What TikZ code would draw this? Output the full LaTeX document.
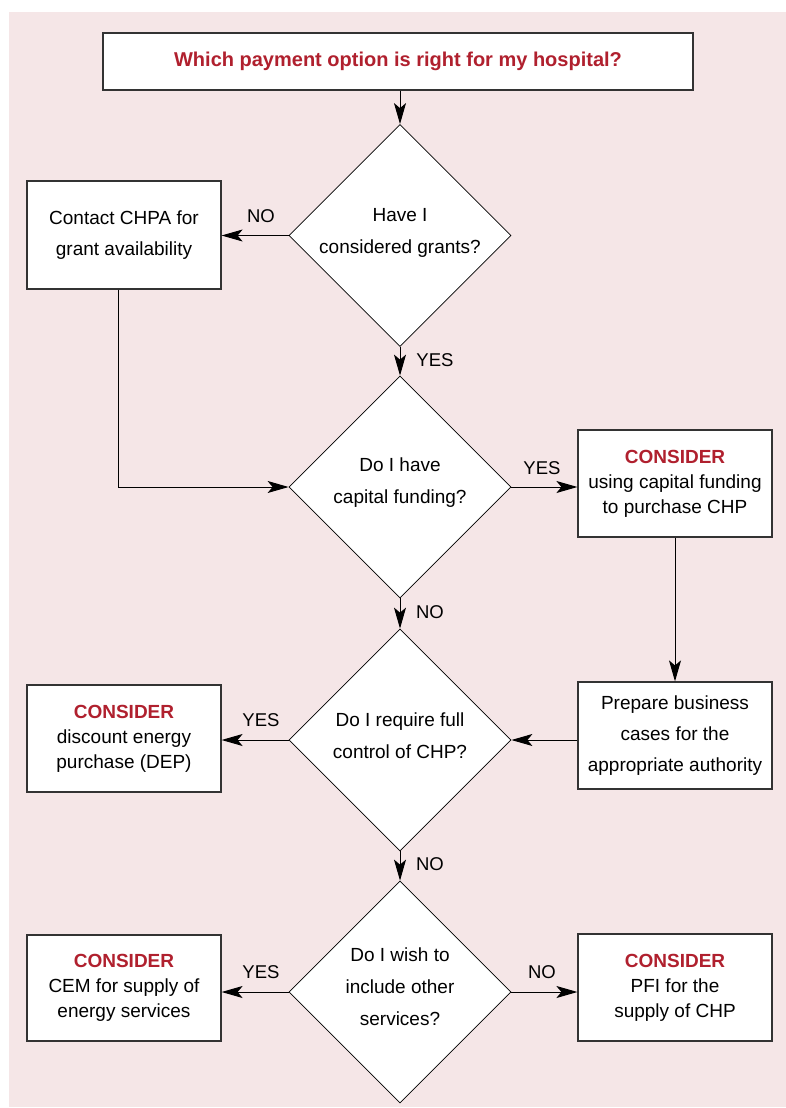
\documentclass[tikz,border=0pt]{standalone}
\usepackage{fontspec}
\setmainfont{Liberation Sans}
\usetikzlibrary{shapes.geometric,arrows.meta,calc}
\definecolor{bgpink}{RGB}{245,230,231}
\definecolor{hred}{RGB}{176,32,46}
\begin{document}
\begin{tikzpicture}[x=1pt,y=-1pt,
  box/.style={draw=black!80,line width=1.2pt,fill=white,minimum width=194pt,minimum height=107pt,inner sep=0pt,align=center,font=\fontsize{19}{31}\selectfont},
  cbox/.style={box,font=\fontsize{19}{25}\selectfont},
  dia/.style={draw,line width=0.8pt,fill=white,diamond,minimum width=222pt,minimum height=222pt,inner sep=0pt},
  dtext/.style={align=center,font=\fontsize{19}{32}\selectfont,inner sep=0pt},
  conn/.style={line width=1pt,-{Stealth[length=21pt,width=12pt,inset=5pt]}},
  plain/.style={line width=1pt},
  lbl/.style={font=\fontsize{18.5}{19}\selectfont,inner sep=0pt}
]
\useasboundingbox (0,0) rectangle (786,1108);
\fill[bgpink] (9,12) rectangle (786,1107);

\node[box,minimum width=590pt,minimum height=57pt,font=\fontsize{20}{24}\selectfont\bfseries,text=hred] (title) at (398,61.5) {Which payment option is right for my hospital?};

\node[dia] (d1) at (400,235.5) {};
\node[dtext] (t1) at (400,233) {Have I\\considered grants?};
\node[dia] (d2) at (400,487) {};
\node[dtext] (t2) at (400,483) {Do I have\\capital funding?};
\node[dia] (d3) at (400,740) {};
\node[dtext] (t3) at (400,736) {Do I require full\\control of CHP?};
\node[dia] (d4) at (400,992) {};
\node[dtext] (t4) at (400,987) {Do I wish to\\include other\\services?};

\node[box,minimum height=108pt] (contact) at (124,235) {Contact CHPA for\\grant availability};
\node[cbox] (cap) at (675,483.5) {\textcolor{hred}{\textbf{CONSIDER}}\\using capital funding\\to purchase CHP};
\node[box] (prep) at (675,735.5) {Prepare business\\cases for the\\appropriate authority};
\node[cbox] (dep) at (124,738.5) {\textcolor{hred}{\textbf{CONSIDER}}\\discount energy\\purchase (DEP)};
\node[cbox,minimum height=106pt] (cem) at (124,988) {\textcolor{hred}{\textbf{CONSIDER}}\\CEM for supply of\\energy services};
\node[cbox] (pfi) at (675,987.5) {\textcolor{hred}{\textbf{CONSIDER}}\\PFI for the\\supply of CHP};

\coordinate (cb) at ($(contact.south)+(-6,0)$);

\draw[conn] (title.south -| d1.north) -- (d1.north);
\draw[conn] (d1.west) -- (d1.west -| contact.east);
\draw[conn] (d1.south) -- (d2.north);
\draw[conn] (cb) |- (d2.west);
\draw[conn] (d2.east) -- (d2.east -| cap.west);
\draw[conn] (d2.south) -- (d3.north);
\draw[conn] (cap.south) -- (prep.north);
\draw[conn] (prep.west |- d3.east) -- (d3.east);
\draw[conn] (d3.west) -- (d3.west -| dep.east);
\draw[conn] (d3.south) -- (d4.north);
\draw[conn] (d4.west) -- (d4.west -| cem.east);
\draw[conn] (d4.east) -- (d4.east -| pfi.west);

\node[lbl] (l1) at (261,216) {NO};
\node[lbl] (l2) at (435,360) {YES};
\node[lbl] (l3) at (542,468) {YES};
\node[lbl] (l4) at (430,612) {NO};
\node[lbl] (l5) at (261,720) {YES};
\node[lbl] (l6) at (430,864) {NO};
\node[lbl] (l7) at (261,972) {YES};
\node[lbl] (l8) at (542,972) {NO};
\end{tikzpicture}
\end{document}
